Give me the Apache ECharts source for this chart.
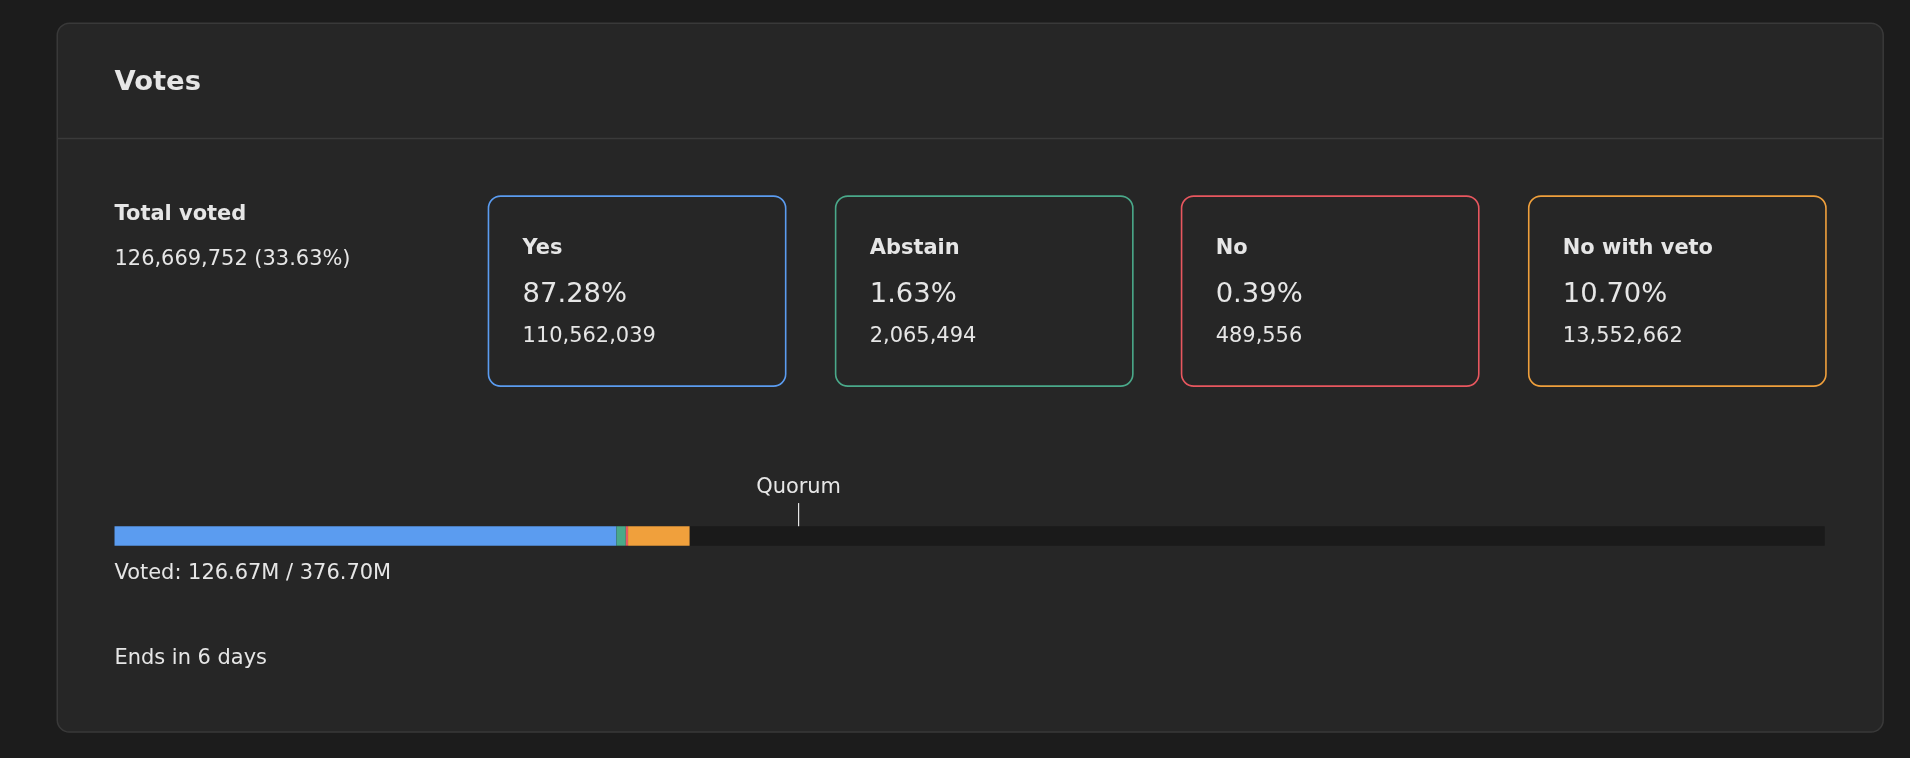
<!DOCTYPE html>
<html><head><meta charset="utf-8">
<script src="https://cdn.jsdelivr.net/npm/echarts@6/dist/echarts.min.js"></script>
<style>html,body{margin:0;padding:0;background:#1c1c1c;}#c{width:1910px;height:758px;}</style>
</head><body><div id="c"></div>
<script>
const options = ['Yes', 'Abstain', 'No', 'No with veto'];
const percents = ['87.28%', '1.63%', '0.39%', '10.70%'];
const counts = [110562039, 2065494, 489556, 13552662];
const colors = ['#5b9cf0', '#4aa98a', '#e8575f', '#f0a03c'];
const totalVoted = 126669752;
const totalPower = 376.70; // M
const quorum = 0.40;

const S = 1910 / 1568;
const p = v => v * S;
const F = '"DejaVu Sans", sans-serif';
const fmt = n => n.toLocaleString('en-US');
const B = 17.2;

const chart = echarts.init(document.getElementById('c'));
const g = [];
g.push({type:'rect', shape:{x:p(47),y:p(19),width:p(1499),height:p(582),r:p(10)}, style:{fill:'#262626',stroke:'#393939',lineWidth:1.5}, z:0});
g.push({type:'rect', shape:{x:p(47),y:p(113),width:p(1499),height:1.5}, style:{fill:'#3a3a3a'}, z:1});
g.push({type:'text', x:p(94), y:p(68), style:{text:'Votes', fill:'#e6e6e6', font:`bold ${p(22.5)}px ${F}`, verticalAlign:'middle'}, z:2});
g.push({type:'text', x:p(94), y:p(176), style:{text:'Total voted', fill:'#e6e6e6', font:`bold ${p(B)}px ${F}`, verticalAlign:'middle'}, z:2});
g.push({type:'text', x:p(94), y:p(213), style:{text:`${fmt(totalVoted)} (33.63%)`, fill:'#e6e6e6', font:`${p(B)}px ${F}`, verticalAlign:'middle'}, z:2});
const bx = [401, 686, 970, 1255];
options.forEach((o, i) => {
  g.push({type:'rect', shape:{x:p(bx[i]),y:p(161),width:p(244),height:p(156),r:p(10)}, style:{fill:'none',stroke:colors[i],lineWidth:1.6}, z:2});
  g.push({type:'text', x:p(bx[i]+28), y:p(204), style:{text:o, fill:'#e6e6e6', font:`bold ${p(B)}px ${F}`, verticalAlign:'middle'}, z:2});
  g.push({type:'text', x:p(bx[i]+28), y:p(242), style:{text:percents[i], fill:'#e6e6e6', font:`${p(22.5)}px ${F}`, verticalAlign:'middle'}, z:2});
  g.push({type:'text', x:p(bx[i]+28), y:p(276), style:{text:fmt(counts[i]), fill:'#e6e6e6', font:`${p(B)}px ${F}`, verticalAlign:'middle'}, z:2});
});
g.push({type:'text', x:p(94), y:p(471), style:{text:`Voted: ${(totalVoted/1e6).toFixed(2)}M / ${totalPower.toFixed(2)}M`, fill:'#e6e6e6', font:`${p(B)}px ${F}`, verticalAlign:'middle'}, z:2});
g.push({type:'text', x:p(94), y:p(541), style:{text:'Ends in 6 days', fill:'#e6e6e6', font:`${p(B)}px ${F}`, verticalAlign:'middle'}, z:2});

chart.setOption({
  backgroundColor:'#1c1c1c',
  animation:false,
  graphic:g,
  grid:{left:p(94), width:p(1404), top:p(432), height:p(16)},
  xAxis:{type:'value', min:0, max:totalPower, show:false},
  yAxis:{type:'category', data:['votes'], show:false},
  series:[
    {type:'bar', data:[totalPower], barWidth:'100%', barGap:'-100%', itemStyle:{color:'#1a1a1a'}, silent:true, z:1},
    ...options.map((o,i)=>({type:'bar', name:o, stack:'v', data:[counts[i]/1e6], barWidth:'100%', itemStyle:{color:colors[i]}, z:2}))
  ]
});
const qx = chart.convertToPixel({xAxisIndex:0}, quorum*totalPower);
chart.setOption({graphic: g.concat([
  {type:'text', x:qx, y:p(400), style:{text:'Quorum', fill:'#e6e6e6', font:`${p(B)}px ${F}`, align:'center', verticalAlign:'middle'}, z:3},
  {type:'line', shape:{x1:qx,y1:p(413),x2:qx,y2:p(432)}, style:{stroke:'#e6e6e6',lineWidth:1.2}, z:3}
])}, {replaceMerge:['graphic']});
</script></body></html>
